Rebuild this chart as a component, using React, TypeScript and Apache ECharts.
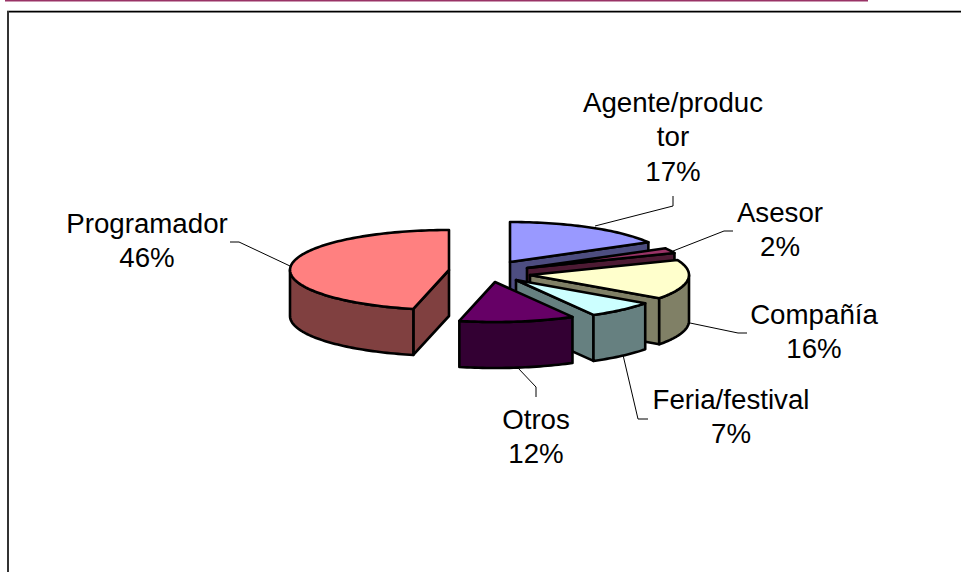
import React, { useEffect, useRef } from "react";
import * as echarts from "echarts";

// Data (percent shares, clockwise from 12 o'clock)
const categories = ["Agente/productor", "Asesor", "Compañía", "Feria/festival", "Otros", "Programador"];
const values = [16.8, 2.1, 16, 7, 11.7, 46.4];
const labelNames = [["Agente/produc", "tor"], ["Asesor"], ["Compañía"], ["Feria/festival"], ["Otros"], ["Programador"]];

// Styles
const topColors = ["#9999FF", "#993366", "#FFFFCC", "#CCFFFF", "#660066", "#FF8080"];
const sideColors = ["#4D4D80", "#4D1A33", "#808066", "#668080", "#330033", "#804040"];

// Layout: apex of each exploded slice, label anchor, leader line
const apexes = [[510, 262], [527, 268], [530, 275], [516, 280], [495, 282], [449, 270]];
const labelCenters = [[673, 102], [780, 212], [814, 314], [731, 399], [536, 419], [147, 223]];
const leaders = [
  [[673, 196], [673, 206], [595, 226]],
  [[733, 231], [724, 231], [673, 251]],
  [[747, 333], [738, 333], [690, 323]],
  [[648, 419], [638, 419], [623, 355]],
  [[536, 397], [536, 387], [518, 368]],
  [[230, 242], [239, 242], [290, 266]],
];
const RX = 159;
const RY = 40;
const DEPTH = 46;
const LINE_HEIGHT = 34.5;
const FONT = "Liberation Sans, Arial, sans-serif";

const total = values.reduce((a, b) => a + b, 0);
const starts: number[] = [];
values.reduce((acc, v, i) => {
  starts[i] = acc;
  return acc + v;
}, 0);

function arcPoints(cx: number, cy: number, a0: number, a1: number) {
  const n = Math.max(2, Math.ceil(Math.abs(a1 - a0) * 40));
  const pts: number[][] = [];
  for (let i = 0; i <= n; i++) {
    const a = a0 + ((a1 - a0) * i) / n;
    pts.push([cx + RX * Math.sin(a), cy - RY * Math.cos(a)]);
  }
  return pts;
}

const outline = (fill: string) => ({ fill, stroke: "#000", lineWidth: 2.6, lineJoin: "round" });

function renderSlice(params: any, api: any) {
  const i = params.dataIndex;
  const v = api.value(0);
  const a0 = (starts[i] / total) * 2 * Math.PI;
  const a1 = a0 + (v / total) * 2 * Math.PI;
  const [cx, cy] = apexes[i];
  const side = outline(sideColors[i]);
  const children: any[] = [];
  const radialWall = (a: number) => {
    const p = [cx + RX * Math.sin(a), cy - RY * Math.cos(a)];
    children.push({
      type: "polygon",
      shape: { points: [[cx, cy], p, [p[0], p[1] + DEPTH], [cx, cy + DEPTH]] },
      style: side,
    });
  };
  if (Math.sin(a0) < -1e-6) radialWall(a0);
  if (Math.sin(a1) > 1e-6) radialWall(a1);
  const frontStart = Math.max(a0, Math.PI / 2);
  const frontEnd = Math.min(a1, (3 * Math.PI) / 2);
  if (frontEnd > frontStart) {
    const top = arcPoints(cx, cy, frontStart, frontEnd);
    const bottom = top.map(([x, y]) => [x, y + DEPTH]).reverse();
    children.push({ type: "polygon", shape: { points: [...top, ...bottom] }, style: side });
  }
  children.push({
    type: "polygon",
    shape: { points: [[cx, cy], ...arcPoints(cx, cy, a0, a1)] },
    style: outline(topColors[i]),
  });
  return { type: "group", children };
}

export default function App() {
  const ref = useRef<HTMLDivElement>(null);
  useEffect(() => {
    const chart = echarts.init(ref.current!, undefined, { renderer: "svg" });
    const graphic: any[] = [
      { type: "rect", shape: { x: 5, y: 0, width: 863, height: 1.5 }, style: { fill: "#993366" } },
      { type: "rect", shape: { x: 7, y: 10, width: 954, height: 1 }, style: { fill: "#bbb" } },
      { type: "rect", shape: { x: 7, y: 11, width: 954, height: 1.5 }, style: { fill: "#000" } },
      { type: "rect", shape: { x: 7, y: 11, width: 2, height: 561 }, style: { fill: "#333" } },
    ];
    leaders.forEach((pts) => {
      graphic.push({
        type: "polyline",
        shape: { points: pts },
        style: { fill: "none", stroke: "#000", lineWidth: 1 },
      });
    });
    categories.forEach((_, i) => {
      const lines = [...labelNames[i], `${Math.round(values[i])}%`];
      lines.forEach((line, k) => {
        graphic.push({
          type: "text",
          x: labelCenters[i][0],
          y: labelCenters[i][1] + k * LINE_HEIGHT,
          style: {
            text: line,
            font: `27.7px ${FONT}`,
            fill: "#000",
            textAlign: "center",
            textVerticalAlign: "middle",
          },
        });
      });
    });
    chart.setOption({
      animation: false,
      backgroundColor: "#fff",
      graphic,
      series: [
        {
          type: "custom",
          coordinateSystem: "none",
          renderItem: renderSlice,
          data: categories.map((name, i) => ({ name, value: [values[i]] })),
          silent: true,
          clip: false,
        },
      ],
    });
    return () => chart.dispose();
  }, []);
  return <div ref={ref} style={{ position: "absolute", left: 0, top: 0, width: 962, height: 572 }} />;
}
